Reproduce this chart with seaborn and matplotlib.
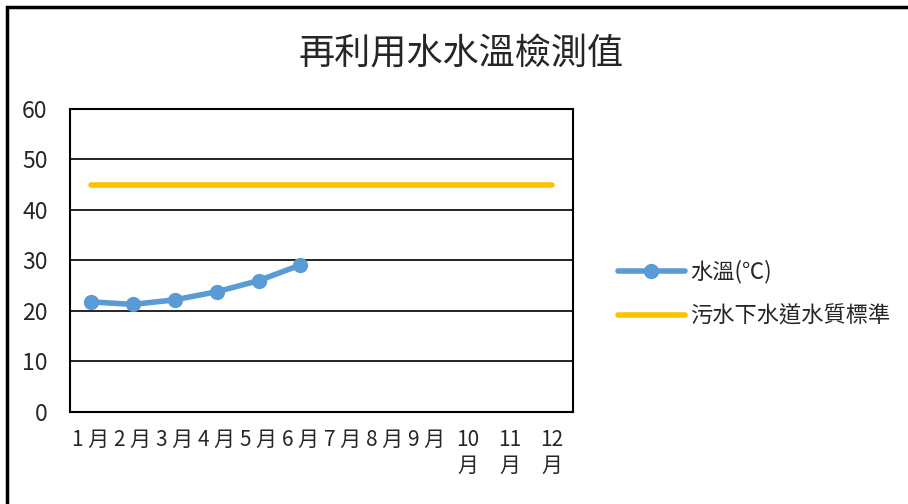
import pandas as pd
import seaborn as sns
import matplotlib.pyplot as plt
from matplotlib.patches import Rectangle

months = ["1 月", "2 月", "3 月", "4 月", "5 月", "6 月", "7 月", "8 月", "9 月",
          "10\n月", "11\n月", "12\n月"]
water_temp = [21.8, 21.3, 22.2, 23.8, 26.0, 29.1]
standard = [45] * 12

temp_df = pd.DataFrame({"x": range(len(water_temp)), "y": water_temp})
std_df = pd.DataFrame({"x": range(len(standard)), "y": standard})

sns.set_style("white")
plt.rcParams["font.family"] = ["Noto Sans CJK TC", "DejaVu Sans"]

fig = plt.figure(figsize=(9.08, 5.04), dpi=100)
ax = fig.add_axes([0.077, 0.1825, 0.554, 0.6015])

sns.lineplot(data=temp_df, x="x", y="y", ax=ax, color="#5B9BD5", linewidth=4,
             marker="o", markersize=11, markeredgewidth=0, label="水溫(℃)")
sns.lineplot(data=std_df, x="x", y="y", ax=ax, color="#FFC000", linewidth=4,
             label="污水下水道水質標準")

ax.set_xlim(-0.5, 11.5)
ax.set_ylim(0, 60)
ax.set_yticks(range(0, 61, 10))
ax.set_xticks(range(12))
ax.set_xticklabels(months, fontsize=15, va="top", linespacing=1.25)
ax.tick_params(axis="y", labelsize=16.5, length=0, pad=16)
ax.tick_params(axis="x", length=0, pad=12)
ax.set_xlabel("")
ax.set_ylabel("")
ax.yaxis.grid(True, color="black", linewidth=1.2)
ax.set_axisbelow(True)
for s in ax.spines.values():
    s.set_color("black")
    s.set_linewidth(1.5)

ax.legend(loc="center left", bbox_to_anchor=(1.05, 0.39), frameon=False,
          fontsize=16, handlelength=3.0, labelspacing=0.95, handletextpad=0.25)

fig.suptitle("再利用水水溫檢測值", fontsize=26, x=0.508, y=0.93)

fig.patches.append(Rectangle((0.0077, -0.5), 1.5, 1.486, transform=fig.transFigure,
                             fill=False, edgecolor="black", linewidth=2.5))

plt.savefig("out.png", dpi=100)
